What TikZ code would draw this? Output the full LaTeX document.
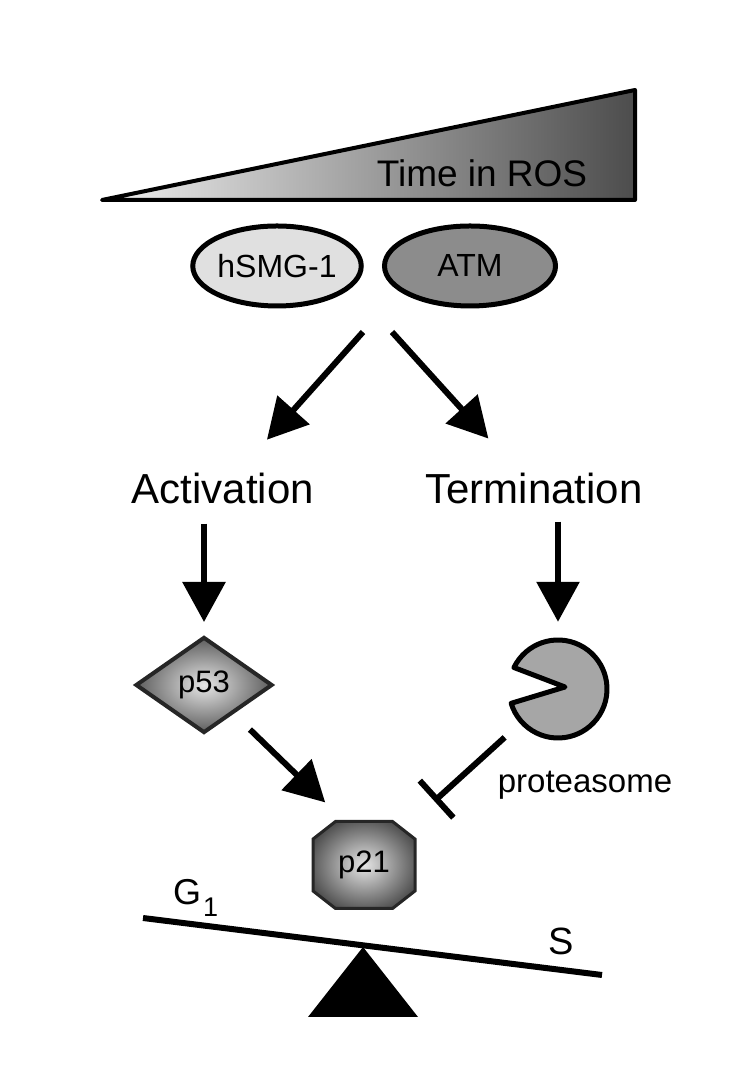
\documentclass[tikz,border=0pt]{standalone}
\usepackage{fontspec}
\setmainfont{Liberation Sans}
\usetikzlibrary{arrows.meta,shapes.geometric,shapes.misc}
\pgfdeclareradialshading{protshade}{\pgfpoint{0bp}{0bp}}{color(0bp)=(black!10); color(30bp)=(black!74); color(50bp)=(black!80)}

\begin{document}
\begin{tikzpicture}[x=1pt,y=1pt,
	arr/.style={line width=6pt,-{Triangle[length=40pt,width=42pt]}},
	blunt/.style={line width=6pt,-{Bar[width=50pt]}},
	kinase/.style={ellipse,draw=black,line width=5pt,minimum width=166pt,minimum height=80pt,inner sep=0pt,font=\fontsize{32pt}{36pt}\selectfont},
	stage/.style={inner sep=0pt,font=\fontsize{42pt}{48pt}\selectfont},
	protein/.style={draw=black!85,shading=protshade,inner sep=0pt,font=\fontsize{31pt}{34pt}\selectfont}]
	\useasboundingbox (0,0) rectangle (750,1083);
	\path[draw,line width=4pt,line join=round,left color=black!6,right color=black!70] (102,883) -- (635,993) -- (635,883) -- cycle;
	\node (ros) [anchor=base,inner sep=0pt,font=\fontsize{37pt}{40pt}\selectfont] at (482,896) {Time in ROS};
	\node (smg) [kinase,fill=black!12] at (277,817) {hSMG-1};
	\node (atm) [kinase,fill=black!45,minimum width=171pt] at (470,817) {ATM};
	\coordinate (forkL) at (363,751);
	\coordinate (forkR) at (392,751);
	\node (act) [stage,anchor=base] at (223,579) {Activation};
	\node (term) [stage,anchor=base] at (534,579) {Termination};
	\draw [arr,shorten >=66pt] (forkL) -- (act.center);
	\draw [arr,shorten >=68pt] (forkR) -- (term.center);
	\node (p53) [protein,diamond,line width=4pt,minimum width=137pt,minimum height=96pt] at (204,398) {p53};
	\node (pac) [circle,inner sep=0pt,minimum size=102pt] at (558,394) {};
	\filldraw [fill=black!35,line width=5pt,line join=round] ([shift={(7,2)}]pac.center) -- ([shift={(154:49)}]pac.center) arc [start angle=154,end angle=-163,radius=49] -- cycle;
	\node (prot) [anchor=base,inner sep=0pt,font=\fontsize{33pt}{36pt}\selectfont] at (585,290) {proteasome};
	\draw [arr,shorten <=19pt,shorten >=13pt] (act.south -| p53.north) -- (p53.north);
	\draw [arr,shorten <=17pt,shorten >=16pt] (term.south -| pac.north) -- (pac.north);
	\node (p21) [protein,chamfered rectangle,chamfered rectangle angle=52,chamfered rectangle xsep=21pt,line width=3pt,minimum width=102pt,minimum height=87pt] at (364,218) {p21};
	\draw [arr,shorten <=64pt,shorten >=54pt] (p53.center) -- ([yshift=25pt]p21.center);
	\draw [blunt,shorten <=72pt,shorten >=95pt] (pac.center) -- (p21.center);
	\coordinate (beamL) at (143,165);
	\coordinate (beamR) at (602,108);
	\coordinate (pivot) at (363,136);
	\draw [line width=6pt] (beamL) -- (beamR);
	\fill (pivot) -- ++(-55,-70) -- ++(110,0) -- cycle;
	\node (g1) [anchor=base west,inner sep=0pt,font=\fontsize{36pt}{40pt}\selectfont] at (173,178) {G\hspace{2pt}\raisebox{-12pt}{\fontsize{27pt}{28pt}\selectfont 1}};
	\node (s) [anchor=base west,inner sep=0pt,font=\fontsize{38pt}{40pt}\selectfont] at (548,128) {S};
\end{tikzpicture}
\end{document}
